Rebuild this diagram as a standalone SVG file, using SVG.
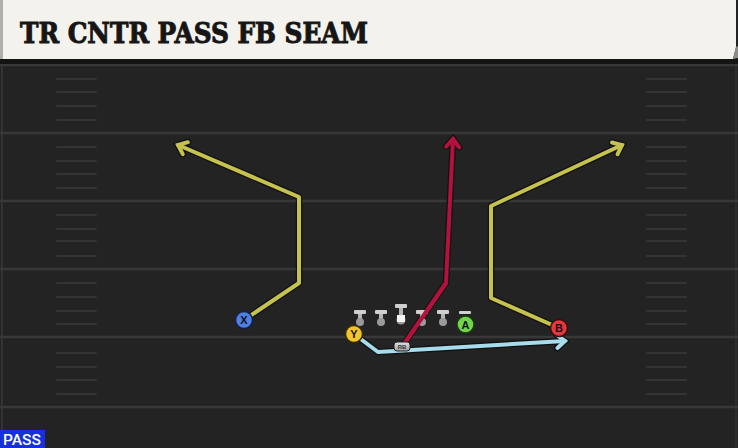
<svg xmlns="http://www.w3.org/2000/svg" width="738" height="448" viewBox="0 0 738 448">
<defs>
<style>
.fl{stroke:#383838;stroke-width:2.5}
.hm{stroke:#343434;stroke-width:2;stroke-linecap:round}
.out{fill:none;stroke:#111;stroke-width:6.5;stroke-linejoin:round;stroke-linecap:round}
.rt{fill:none;stroke-width:4;stroke-linejoin:round;stroke-linecap:round}
.lbl{font-family:"Liberation Sans","DejaVu Sans",sans-serif;font-weight:bold;font-size:11px;text-anchor:middle;fill:#111}
.bar{fill:#cfcfcf}
.stem{fill:#b5b5b5}
.dot{fill:#9a9a9a}
</style>
<linearGradient id="lg" x1="0" y1="0" x2="0" y2="1">
<stop offset="0" stop-color="#e2e2e2"/><stop offset="1" stop-color="#9c9c9c"/>
</linearGradient>
<marker id="mo" markerUnits="userSpaceOnUse" orient="auto" overflow="visible" refX="0" refY="0" markerWidth="1" markerHeight="1">
<path d="M-8,-6.5 L0,0 L-8,6.5" fill="none" stroke="#111" stroke-width="6.5" stroke-linejoin="miter" stroke-linecap="round"/>
</marker>
<marker id="my" markerUnits="userSpaceOnUse" orient="auto" overflow="visible" refX="0" refY="0" markerWidth="1" markerHeight="1">
<path d="M-8,-6.5 L0,0 L-8,6.5" fill="none" stroke="#c6c24e" stroke-width="4" stroke-linejoin="miter" stroke-linecap="round"/>
</marker>
<marker id="mr" markerUnits="userSpaceOnUse" orient="auto" overflow="visible" refX="0" refY="0" markerWidth="1" markerHeight="1">
<path d="M-8,-6.5 L0,0 L-8,6.5" fill="none" stroke="#b3123d" stroke-width="4" stroke-linejoin="miter" stroke-linecap="round"/>
</marker>
<marker id="mb" markerUnits="userSpaceOnUse" orient="auto" overflow="visible" refX="0" refY="0" markerWidth="1" markerHeight="1">
<path d="M-8,-6.5 L0,0 L-8,6.5" fill="none" stroke="#a6dcec" stroke-width="4" stroke-linejoin="miter" stroke-linecap="round"/>
</marker>
</defs>

<g id="field">
<rect x="0" y="0" width="738" height="448" fill="#232323"/>
<line x1="2" y1="60" x2="2" y2="430" stroke="#333" stroke-width="2"/>
<line x1="736" y1="60" x2="736" y2="448" stroke="#2e2e2e" stroke-width="2"/>
<line class="fl" x1="0" y1="65" x2="738" y2="65"/>
<line class="fl" x1="0" y1="133" x2="738" y2="133"/>
<line class="fl" x1="0" y1="201" x2="738" y2="201"/>
<line class="fl" x1="0" y1="269" x2="738" y2="269"/>
<line class="fl" x1="0" y1="337" x2="738" y2="337"/>
<line class="fl" x1="0" y1="407" x2="738" y2="407"/>
<g id="hashL">
<line class="hm" x1="57" y1="79" x2="96" y2="79"/><line class="hm" x1="57" y1="92" x2="96" y2="92"/><line class="hm" x1="57" y1="106" x2="96" y2="106"/><line class="hm" x1="57" y1="120" x2="96" y2="120"/>
<line class="hm" x1="57" y1="147" x2="96" y2="147"/><line class="hm" x1="57" y1="161" x2="96" y2="161"/><line class="hm" x1="57" y1="174" x2="96" y2="174"/><line class="hm" x1="57" y1="188" x2="96" y2="188"/>
<line class="hm" x1="57" y1="215" x2="96" y2="215"/><line class="hm" x1="57" y1="229" x2="96" y2="229"/><line class="hm" x1="57" y1="241" x2="96" y2="241"/><line class="hm" x1="57" y1="256" x2="96" y2="256"/>
<line class="hm" x1="57" y1="283" x2="96" y2="283"/><line class="hm" x1="57" y1="297" x2="96" y2="297"/><line class="hm" x1="57" y1="311" x2="96" y2="311"/><line class="hm" x1="57" y1="324" x2="96" y2="324"/>
<line class="hm" x1="57" y1="353" x2="96" y2="353"/><line class="hm" x1="57" y1="367" x2="96" y2="367"/><line class="hm" x1="57" y1="380" x2="96" y2="380"/><line class="hm" x1="57" y1="394" x2="96" y2="394"/>
</g>
<g id="hashR">
<line class="hm" x1="647" y1="79" x2="686" y2="79"/><line class="hm" x1="647" y1="92" x2="686" y2="92"/><line class="hm" x1="647" y1="106" x2="686" y2="106"/><line class="hm" x1="647" y1="120" x2="686" y2="120"/>
<line class="hm" x1="647" y1="147" x2="686" y2="147"/><line class="hm" x1="647" y1="161" x2="686" y2="161"/><line class="hm" x1="647" y1="174" x2="686" y2="174"/><line class="hm" x1="647" y1="188" x2="686" y2="188"/>
<line class="hm" x1="647" y1="215" x2="686" y2="215"/><line class="hm" x1="647" y1="229" x2="686" y2="229"/><line class="hm" x1="647" y1="241" x2="686" y2="241"/><line class="hm" x1="647" y1="256" x2="686" y2="256"/>
<line class="hm" x1="647" y1="283" x2="686" y2="283"/><line class="hm" x1="647" y1="297" x2="686" y2="297"/><line class="hm" x1="647" y1="311" x2="686" y2="311"/><line class="hm" x1="647" y1="324" x2="686" y2="324"/>
<line class="hm" x1="647" y1="353" x2="686" y2="353"/><line class="hm" x1="647" y1="367" x2="686" y2="367"/><line class="hm" x1="647" y1="380" x2="686" y2="380"/><line class="hm" x1="647" y1="394" x2="686" y2="394"/>
</g>
</g>

<g id="header">
<rect x="0" y="58" width="738" height="6" fill="#141414"/>
<path d="M0,0 H736 V47 L733,59 H0 Z" fill="#f4f2ec"/>
<path d="M736,47 L738,46 V58 L733,59 Z" fill="#8e8c86"/>
<rect x="0" y="0" width="3" height="59" fill="#b0aea8"/>
<text x="20" y="43" font-family="'DejaVu Serif','Liberation Serif',serif" font-weight="bold" font-size="28" fill="#161616" stroke="#161616" stroke-width="1" textLength="348" lengthAdjust="spacingAndGlyphs">TR CNTR PASS FB SEAM</text>
</g>

<g id="connectors">
<polyline class="out" points="244,320 299,283 299,197 178,145" marker-end="url(#mo)"/>
<polyline class="out" points="559,328 491,298 491,206 622,145" marker-end="url(#mo)"/>
<polyline class="out" points="404,344 446,283 453,139" marker-end="url(#mo)"/>
<polyline class="out" points="354,334 378,352 565,341" marker-end="url(#mo)"/>
<polyline class="rt" stroke="#c6c24e" points="244,320 299,283 299,197 178,145" marker-end="url(#my)"/>
<polyline class="rt" stroke="#c6c24e" points="559,328 491,298 491,206 622,145" marker-end="url(#my)"/>
<polyline class="rt" stroke="#a6dcec" points="354,334 378,352 565,341" marker-end="url(#mb)"/>
<polyline class="rt" stroke="#b3123d" points="404,344 446,283 453,139" marker-end="url(#mr)"/>
</g>

<g id="LT"><rect class="bar" x="354" y="310" width="12" height="4" rx="1"/><rect class="stem" x="358" y="314" width="4" height="6"/><circle class="dot" cx="360" cy="322" r="4"/></g>
<g id="LG"><rect class="bar" x="375" y="310" width="12" height="4" rx="1"/><rect class="stem" x="379" y="314" width="4" height="6"/><circle class="dot" cx="381" cy="322" r="4"/></g>
<g id="C"><rect class="bar" x="395" y="304" width="12" height="4" rx="1"/><rect class="stem" x="399" y="308" width="4" height="9"/><circle class="dot" cx="401" cy="320" r="4.5"/><rect x="397" y="315" width="8" height="7" fill="#f4f4f4"/></g>
<g id="RG"><rect class="bar" x="416" y="310" width="12" height="4" rx="1"/><rect class="stem" x="420" y="314" width="4" height="6"/><circle class="dot" cx="422" cy="322" r="4"/></g>
<g id="RT"><rect class="bar" x="437" y="310" width="12" height="4" rx="1"/><rect class="stem" x="441" y="314" width="4" height="6"/><circle class="dot" cx="443" cy="322" r="4"/></g>
<g id="red-seam-over"><polyline class="rt" stroke="#b3123d" points="404,344 446,283"/></g>

<g id="X"><circle cx="244" cy="320" r="8.5" fill="#4d7fe6" stroke="#152040" stroke-width="1.5"/><text class="lbl" x="244" y="324">X</text></g>
<g id="Y"><circle cx="354" cy="334" r="8.5" fill="#f2c52c" stroke="#3a2e08" stroke-width="1.5"/><text class="lbl" x="354" y="338">Y</text></g>
<g id="A"><rect class="bar" x="459" y="311" width="12" height="3" rx="1"/><circle cx="465.5" cy="324.5" r="8.5" fill="#72d64a" stroke="#1c3a10" stroke-width="1.5"/><text class="lbl" x="465.5" y="328.5">A</text></g>
<g id="B"><circle cx="559" cy="328" r="8.5" fill="#e6363e" stroke="#3a0a0c" stroke-width="1.5"/><text class="lbl" x="559" y="332" fill="#3a0608">B</text></g>
<g id="RB"><rect x="394" y="342" width="16" height="9" rx="3" fill="url(#lg)" stroke="#222" stroke-width="1"/><text x="402" y="349" font-family="'Liberation Sans',sans-serif" font-weight="bold" font-size="6" text-anchor="middle" fill="#333">RB</text></g>

<g id="pass">
<rect x="0" y="430" width="45" height="18" fill="#1530dc"/>
<text x="3" y="445" font-family="Roboto,'Liberation Sans',sans-serif" font-weight="500" font-size="14" fill="#ffffff" textLength="38" lengthAdjust="spacingAndGlyphs">PASS</text>
</g>
</svg>
